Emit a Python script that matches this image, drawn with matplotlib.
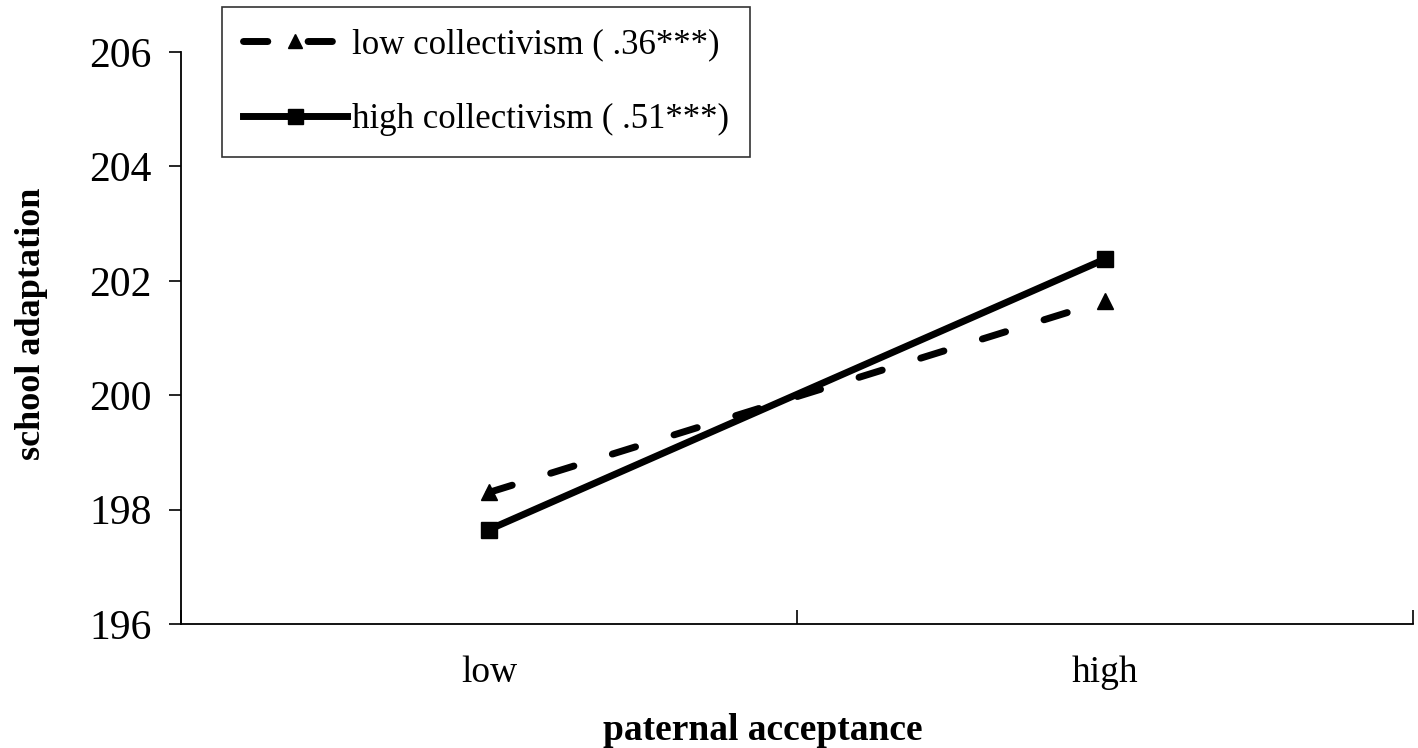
import matplotlib.pyplot as plt

plt.rcParams['font.family'] = ['Liberation Serif', 'DejaVu Serif']

# data
categories = ["low", "high"]
low_collectivism = [198.3, 201.65]
high_collectivism = [197.65, 202.38]
y_ticks = [196, 198, 200, 202, 204, 206]

fig = plt.figure(figsize=(14.18, 7.48), dpi=100)
ax = fig.add_axes([0.1276, 0.1658, 0.869, 0.7647])

x_pos = [i + 0.5 for i in range(len(categories))]

ax.plot(
    x_pos,
    low_collectivism,
    color="black",
    linewidth=5,
    dashes=(3.5, 5.8),
    dash_capstyle="round",
    marker="^",
    markersize=11,
    label="low collectivism ( .36***)"
)

ax.plot(
    x_pos,
    high_collectivism,
    color="black",
    linewidth=5,
    marker="s",
    markersize=12,
    label="high collectivism ( .51***)"
)

ax.set_xlim(0, 2)
ax.set_ylim(196, 206)
ax.set_yticks(y_ticks)
ax.set_yticklabels([str(v) for v in y_ticks], fontsize=30)

ax.set_xticks([0, 1, 2])
ax.set_xticklabels([])
ax.set_xticks(x_pos, minor=True)
ax.set_xticklabels(categories, minor=True, fontsize=27)
ax.tick_params(axis="x", which="major", direction="in", length=10, width=1.2)
ax.tick_params(axis="x", which="minor", length=0, pad=23)
ax.tick_params(axis="y", direction="out", length=9, width=1.2, pad=12)

ax.spines["top"].set_visible(False)
ax.spines["right"].set_visible(False)
ax.spines["left"].set_linewidth(1.3)
ax.spines["bottom"].set_linewidth(1.3)

ax.set_xlabel("paternal acceptance", fontsize=27, fontweight="bold")
ax.xaxis.set_label_coords(0.4724, -0.155)
ax.set_ylabel("school adaptation", fontsize=26, fontweight="bold")
ax.yaxis.set_label_coords(-0.108, 0.525)

leg = fig.legend(
    loc="upper left",
    bbox_to_anchor=(0.1566, 0.9906),
    borderaxespad=0,
    fontsize=25,
    handlelength=3.0,
    labelspacing=1.22,
    borderpad=0.6,
    handletextpad=0.15,
    fancybox=False,
    frameon=True,
    edgecolor="black",
    markerscale=0.9
)
leg.get_frame().set_linewidth(1.2)

plt.savefig("out.png", dpi=100)
